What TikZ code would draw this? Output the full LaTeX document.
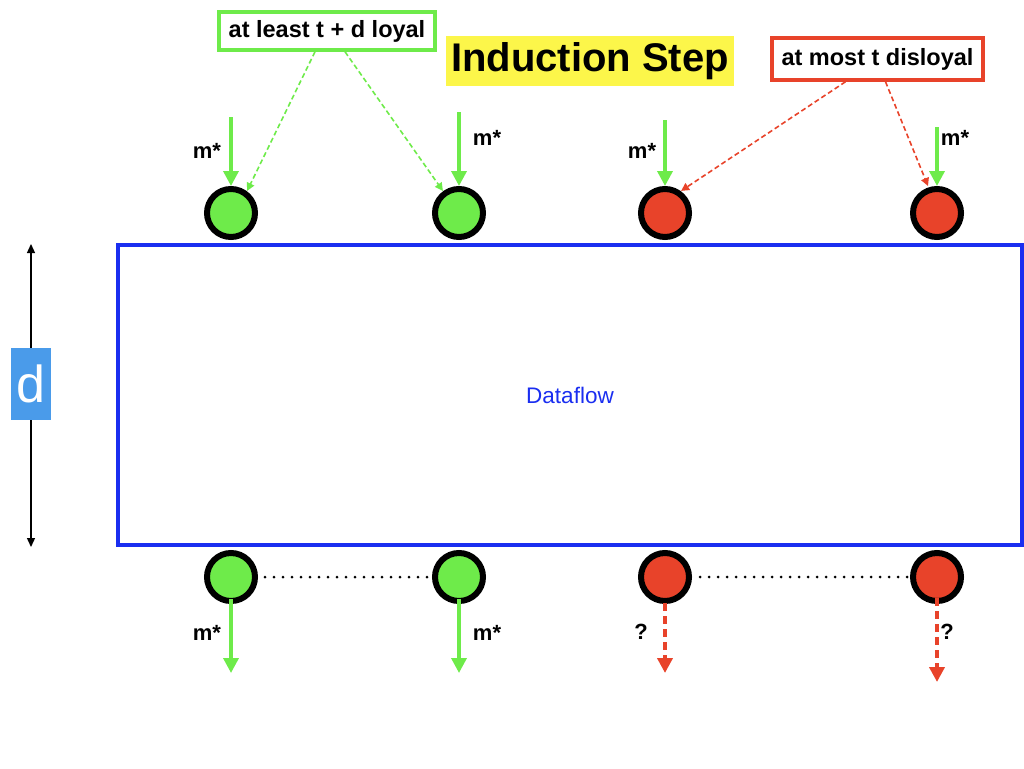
\documentclass[tikz,border=0pt]{standalone}
\usepackage{fontspec}
\setmainfont{Liberation Sans}
\usetikzlibrary{arrows.meta}
\definecolor{lgreen}{HTML}{6EEB4A}
\definecolor{lred}{HTML}{E8432A}
\definecolor{fblue}{HTML}{1A2EF0}
\definecolor{dblue}{HTML}{4A9BEA}
\definecolor{tyellow}{HTML}{FCF64A}
\tikzset{
  good/.style={circle,draw=black,line width=6pt,fill=lgreen,minimum size=48pt,inner sep=0pt},
  bad/.style={circle,draw=black,line width=6pt,fill=lred,minimum size=48pt,inner sep=0pt},
  msg/.style={draw=lgreen,line width=3.5pt,-{Triangle[width=15pt,length=15pt]}},
  badmsg/.style={draw=lred,line width=4pt,dash pattern=on 8pt off 5pt,-{Triangle[width=15pt,length=15pt]}},
  hint/.style={line width=1.6pt,dash pattern=on 5pt off 3pt,-{Triangle[width=8pt,length=8pt]}},
  lbl/.style={font=\bfseries\fontsize{22}{24}\selectfont},
  boxlbl/.style={font=\bfseries\fontsize{23.5}{26}\selectfont},
  dots/.style={line width=3pt,dash pattern=on 0pt off 9pt,line cap=round}
}
\begin{document}
\begin{tikzpicture}[x=1pt,y=-1pt]
\useasboundingbox (0,0) rectangle (1024,768);
% dataflow box
\node[draw=fblue,line width=4pt,minimum width=904pt,minimum height=300pt,inner sep=0pt,
  text=fblue,font=\fontsize{22.5}{24}\selectfont] (flow) at (570,395) {Dataflow};
% d measure
\coordinate (dtop) at (31,244);
\coordinate (dbot) at (31,547);
\draw[line width=1.3pt,{Triangle[width=8pt,length=9pt]}-{Triangle[width=8pt,length=9pt]}] (dtop) -- (dbot);
\node[fill=dblue,text=white,minimum width=40pt,minimum height=72pt,inner sep=0pt,
  font=\fontsize{52}{52}\selectfont] (d) at (31,384) {d};
% title
\node[fill=tyellow,minimum width=288pt,minimum height=50pt,inner sep=0pt,
  font=\bfseries\fontsize{40}{42}\selectfont] (title) at (590,61) {Induction Step};
% info boxes
\node[draw=lgreen,line width=3.5pt,fill=white,minimum width=216pt,minimum height=38pt,inner sep=0pt,boxlbl] (loyal) at (327,31) {at least t + d loyal};
\node[draw=lred,line width=3.5pt,fill=white,minimum width=211pt,minimum height=42pt,inner sep=0pt,boxlbl] (dis) at (877.5,59) {at most t disloyal};
% top circles
\node[good] (g1) at (231,213) {};
\node[good] (g2) at (459,213) {};
\node[bad] (r1) at (665,213) {};
\node[bad] (r2) at (937,213) {};
% bottom circles
\node[good] (bg1) at (231,577) {};
\node[good] (bg2) at (459,577) {};
\node[bad] (br1) at (665,577) {};
\node[bad] (br2) at (937,577) {};
% incoming m*
\coordinate (i1) at (231,117);
\coordinate (i2) at (459,112);
\coordinate (i3) at (665,120);
\coordinate (i4) at (937,127);
\draw[msg] (i1) -- (g1.north);
\draw[msg] (i2) -- (g2.north);
\draw[msg] (i3) -- (r1.north);
\draw[msg] (i4) -- (r2.north);
\node[lbl] (m1) at (207,151) {m*};
\node[lbl] (m2) at (487,138) {m*};
\node[lbl] (m3) at (642,151) {m*};
\node[lbl] (m4) at (955,138) {m*};
% hint arrows
\draw[hint,draw=lgreen] ([xshift=-12pt]loyal.south) -- ([shift={(-3pt,3pt)}]g1.north east);
\draw[hint,draw=lgreen] ([xshift=18pt]loyal.south) -- ([shift={(3pt,3pt)}]g2.north west);
\draw[hint,draw=lred] ([xshift=-32pt]dis.south) -- ([shift={(-3pt,3pt)}]r1.north east);
\draw[hint,draw=lred] ([xshift=8pt]dis.south) -- ([xshift=-9pt]r2.north);
% bottom dotted links
\draw[dots,shorten <=7pt] (bg1.east) -- (bg2.west);
\draw[dots,shorten <=8pt] (br1.east) -- (br2.west);
% outgoing
\coordinate (o1) at (231,673);
\coordinate (o2) at (459,673);
\coordinate (o3) at (665,673);
\coordinate (o4) at (937,682);
\draw[msg] (bg1.center) ++(0,22) -- (o1);
\draw[msg] (bg2.center) ++(0,22) -- (o2);
\draw[badmsg] ([yshift=1pt]br1.south) -- (o3);
\draw[badmsg] ([yshift=6pt]br2.south) -- (o4);
\node[lbl] (m5) at (207,633) {m*};
\node[lbl] (m6) at (487,633) {m*};
\node[lbl] (q1) at (641,632) {?};
\node[lbl] (q2) at (947,632) {?};
\end{tikzpicture}
\end{document}
